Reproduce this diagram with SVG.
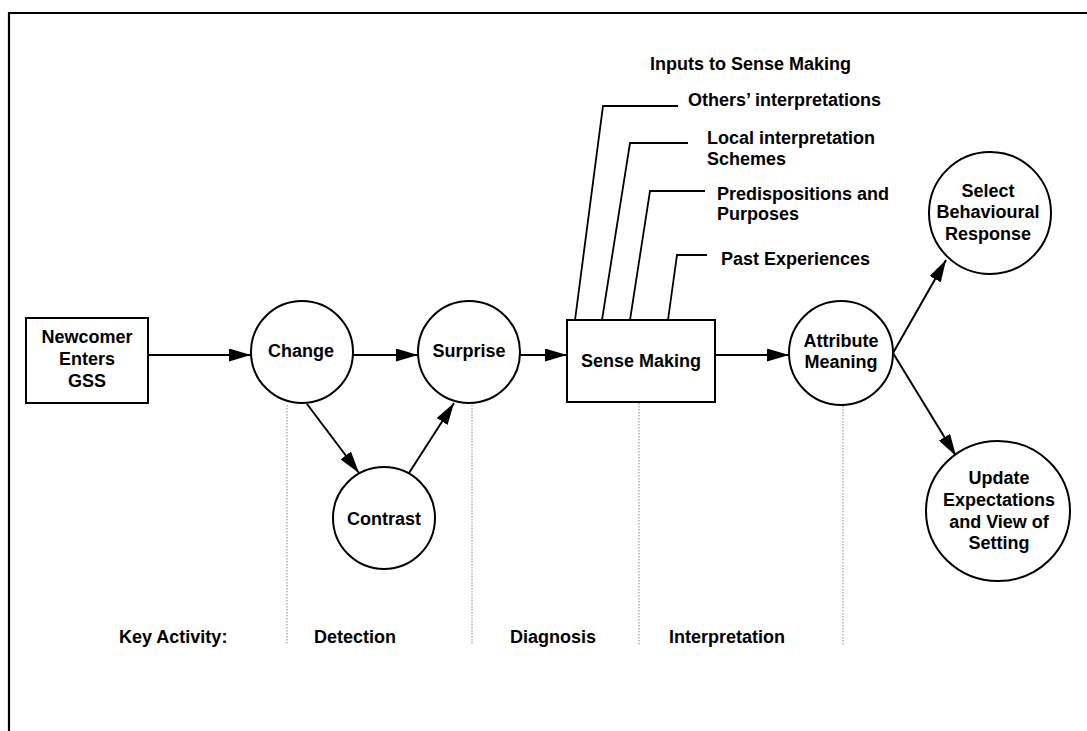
<svg xmlns="http://www.w3.org/2000/svg" width="1087" height="731" viewBox="0 0 1087 731">
  <style>
    .bg { fill: #ffffff; }
    .frame { fill: none; stroke: #000; stroke-width: 2.2; }
    .node { fill: #ffffff; stroke: #000; stroke-width: 2; }
    .edge { fill: none; stroke: #000; stroke-width: 2; }
    .lead { fill: none; stroke: #000; stroke-width: 1.8; }
    .guide { fill: none; stroke: #888; stroke-width: 1; stroke-dasharray: 1.5 1.5; }
    text { font-family: "Liberation Sans", Arial, sans-serif; font-weight: bold; font-size: 18px; fill: #000; }
    .c { text-anchor: middle; }
  </style>
  <defs>
    <marker id="arrow" markerUnits="userSpaceOnUse" markerWidth="23" markerHeight="13" refX="22" refY="6.5" orient="auto">
      <path d="M0,0 L22,6.5 L0,13 z" fill="#000"/>
    </marker>
  </defs>

  <rect class="bg" x="0" y="0" width="1087" height="731"/>

  <!-- page frame: top and left rules -->
  <path class="frame" d="M9,731 L9,13 L1087,13"/>

  <!-- phase separators -->
  <g id="phase-guides">
    <line class="guide" x1="287" y1="405" x2="287" y2="645"/>
    <line class="guide" x1="472" y1="405" x2="472" y2="645"/>
    <line class="guide" x1="639" y1="403" x2="639" y2="645"/>
    <line class="guide" x1="843" y1="406" x2="843" y2="645"/>
  </g>

  <!-- connectors -->
  <g id="connectors">
    <line class="edge" x1="148" y1="355" x2="251" y2="355" marker-end="url(#arrow)"/>
    <line class="edge" x1="353" y1="355" x2="418" y2="355" marker-end="url(#arrow)"/>
    <line class="edge" x1="307" y1="404" x2="359" y2="473" marker-end="url(#arrow)"/>
    <line class="edge" x1="409" y1="473" x2="454" y2="403" marker-end="url(#arrow)"/>
    <line class="edge" x1="520" y1="355" x2="567" y2="355" marker-end="url(#arrow)"/>
    <line class="edge" x1="715" y1="355" x2="789" y2="355" marker-end="url(#arrow)"/>
    <line class="edge" x1="893" y1="353" x2="946" y2="260" marker-end="url(#arrow)"/>
    <line class="edge" x1="893" y1="353" x2="956" y2="456" marker-end="url(#arrow)"/>
    <!-- inputs feeding into sense making -->
    <polyline class="lead" points="575,320 603,106 678,106"/>
    <polyline class="lead" points="602,320 630,143 688,143"/>
    <polyline class="lead" points="630,320 650,191 705,191"/>
    <polyline class="lead" points="668,320 677,255 707,255"/>
  </g>

  <g id="newcomer">
    <rect class="node" x="26" y="318" width="122" height="85"/>
    <text class="c" x="87" y="343">Newcomer</text>
    <text class="c" x="87" y="365">Enters</text>
    <text class="c" x="87" y="387">GSS</text>
  </g>

  <g id="change">
    <circle class="node" cx="302" cy="352" r="51"/>
    <text class="c" x="301" y="357">Change</text>
  </g>

  <g id="surprise">
    <circle class="node" cx="469" cy="352" r="51"/>
    <text class="c" x="469" y="357">Surprise</text>
  </g>

  <g id="contrast">
    <circle class="node" cx="384" cy="518" r="51"/>
    <text class="c" x="384" y="525">Contrast</text>
  </g>

  <g id="sense-making">
    <rect class="node" x="567" y="320" width="148" height="82"/>
    <text class="c" x="641" y="367">Sense Making</text>
  </g>

  <g id="attribute-meaning">
    <circle class="node" cx="841" cy="353" r="52"/>
    <text class="c" x="841" y="347">Attribute</text>
    <text class="c" x="841" y="368">Meaning</text>
  </g>

  <g id="select-response">
    <circle class="node" cx="990" cy="213" r="61"/>
    <text class="c" x="988" y="197">Select</text>
    <text class="c" x="988" y="218">Behavioural</text>
    <text class="c" x="988" y="240">Response</text>
  </g>

  <g id="update-expectations">
    <ellipse class="node" cx="998" cy="511" rx="72" ry="70"/>
    <text class="c" x="999" y="484">Update</text>
    <text class="c" x="999" y="506">Expectations</text>
    <text class="c" x="999" y="528">and View of</text>
    <text class="c" x="999" y="549">Setting</text>
  </g>

  <g id="inputs">
    <text x="650" y="70">Inputs to Sense Making</text>
    <text x="688" y="106">Others’ interpretations</text>
    <text x="707" y="144">Local interpretation</text>
    <text x="707" y="165">Schemes</text>
    <text x="717" y="200">Predispositions and</text>
    <text x="717" y="220">Purposes</text>
    <text x="721" y="265">Past Experiences</text>
  </g>

  <g id="key-activity">
    <text x="119" y="643">Key Activity:</text>
    <text x="314" y="643">Detection</text>
    <text x="510" y="643">Diagnosis</text>
    <text x="669" y="643">Interpretation</text>
  </g>
</svg>
